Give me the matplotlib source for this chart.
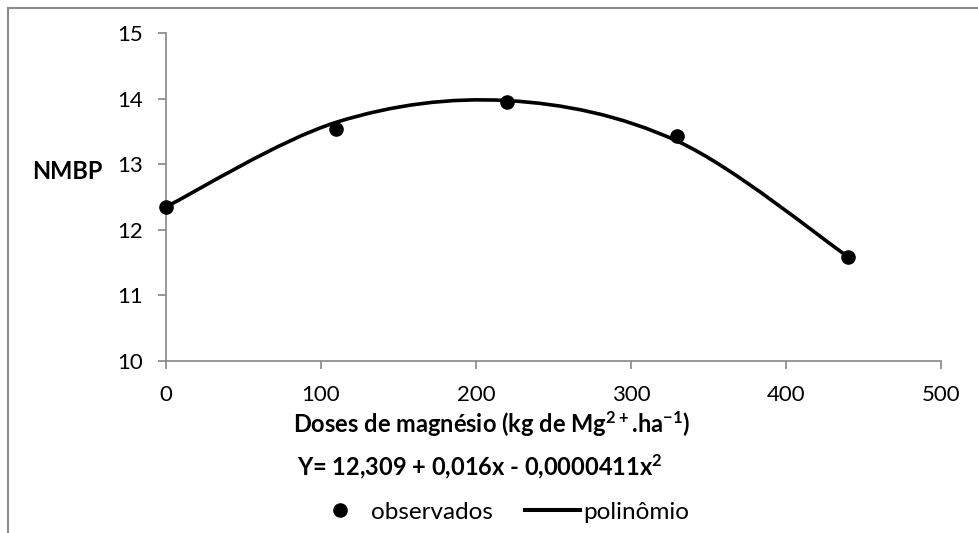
import matplotlib
matplotlib.use("Agg")
import matplotlib.pyplot as plt
from matplotlib.path import Path
from matplotlib.patches import PathPatch
from matplotlib.lines import Line2D
import numpy as np

plt.rcParams['font.family'] = ['Lato', 'DejaVu Sans']
plt.rcParams['mathtext.fontset'] = 'custom'
plt.rcParams['mathtext.rm'] = 'Lato'
plt.rcParams['mathtext.bf'] = 'Lato:bold'
plt.rcParams['axes.unicode_minus'] = False

doses = [0, 110, 220, 330, 440]
observados = [12.35, 13.53, 13.95, 13.43, 11.59]
polinomio = [12.35, 13.64, 13.97, 13.35, 11.59]
x_ticks = [0, 100, 200, 300, 400, 500]
y_ticks = [10, 11, 12, 13, 14, 15]

W, H = 979, 533
fig = plt.figure(figsize=(W / 100, H / 100), dpi=100)
ax = fig.add_axes([166 / W, 1 - 361 / H, (941 - 166) / W, (361 - 33) / H])

# Smoothed (Excel-like Bezier) line through the fitted values
pts = np.column_stack([doses, polinomio]).astype(float)
n = len(pts)
verts = [tuple(pts[0])]
codes = [Path.MOVETO]
for i in range(n - 1):
    p0 = pts[max(i - 1, 0)]
    p1 = pts[i]
    p2 = pts[i + 1]
    p3 = pts[min(i + 2, n - 1)]
    c1 = p1 + (p2 - p0) / 6.0
    c2 = p2 - (p3 - p1) / 6.0
    verts += [tuple(c1), tuple(c2), tuple(p2)]
    codes += [Path.CURVE4] * 3
ax.add_patch(PathPatch(Path(verts, codes), facecolor='none', edgecolor='black',
                       lw=2.6, capstyle='round', joinstyle='round', zorder=2))

ax.plot(doses, observados, 'o', color='black', ms=9.5, zorder=3, clip_on=False)

ax.set_xlim(0, 500)
ax.set_ylim(10, 15)
ax.set_xticks(x_ticks)
ax.set_yticks(y_ticks)
ax.tick_params(labelsize=16, length=5.5, color='#868686', width=1.2)
ax.tick_params(axis='y', pad=11)
ax.tick_params(axis='x', pad=12)
for s in ['top', 'right']:
    ax.spines[s].set_visible(False)
for s in ['left', 'bottom']:
    ax.spines[s].set_color('#868686')
    ax.spines[s].set_linewidth(1.2)

fig.text(67.5 / W, 1 - 179 / H, 'NMBP', fontsize=17, fontweight='bold',
         ha='center', va='baseline')
fig.text(492 / W, 1 - 433 / H,
         r'Doses de magnésio (kg de Mg$\mathbf{^{2+}}$.ha$\mathbf{^{-1}}$)',
         fontsize=17, fontweight='bold', ha='center', va='baseline')
fig.text(480 / W, 1 - 475 / H,
         r'Y= 12,309 + 0,016x - 0,0000411x$\mathbf{^{2}}$',
         fontsize=17, fontweight='bold', ha='center', va='baseline')

handles = [Line2D([], [], marker='o', color='black', ls='none', ms=9.5),
           Line2D([], [], color='black', lw=2.9)]
fig.legend(handles, ['observados', 'polinômio'], loc='center',
           bbox_to_anchor=(501 / W, 1 - 512 / H), ncol=2, frameon=False,
           fontsize=17.5, handlelength=2.26, handletextpad=0.15,
           columnspacing=1.3, borderpad=0, borderaxespad=0)

fig.add_artist(Line2D([8 / W, 8 / W], [0, 1 - 8 / H], color='#8c8c8c', lw=1.5,
                      transform=fig.transFigure))
fig.add_artist(Line2D([8 / W, 1], [1 - 8 / H, 1 - 8 / H], color='#8c8c8c', lw=1.5,
                      transform=fig.transFigure))

fig.savefig('out.png', dpi=100)
